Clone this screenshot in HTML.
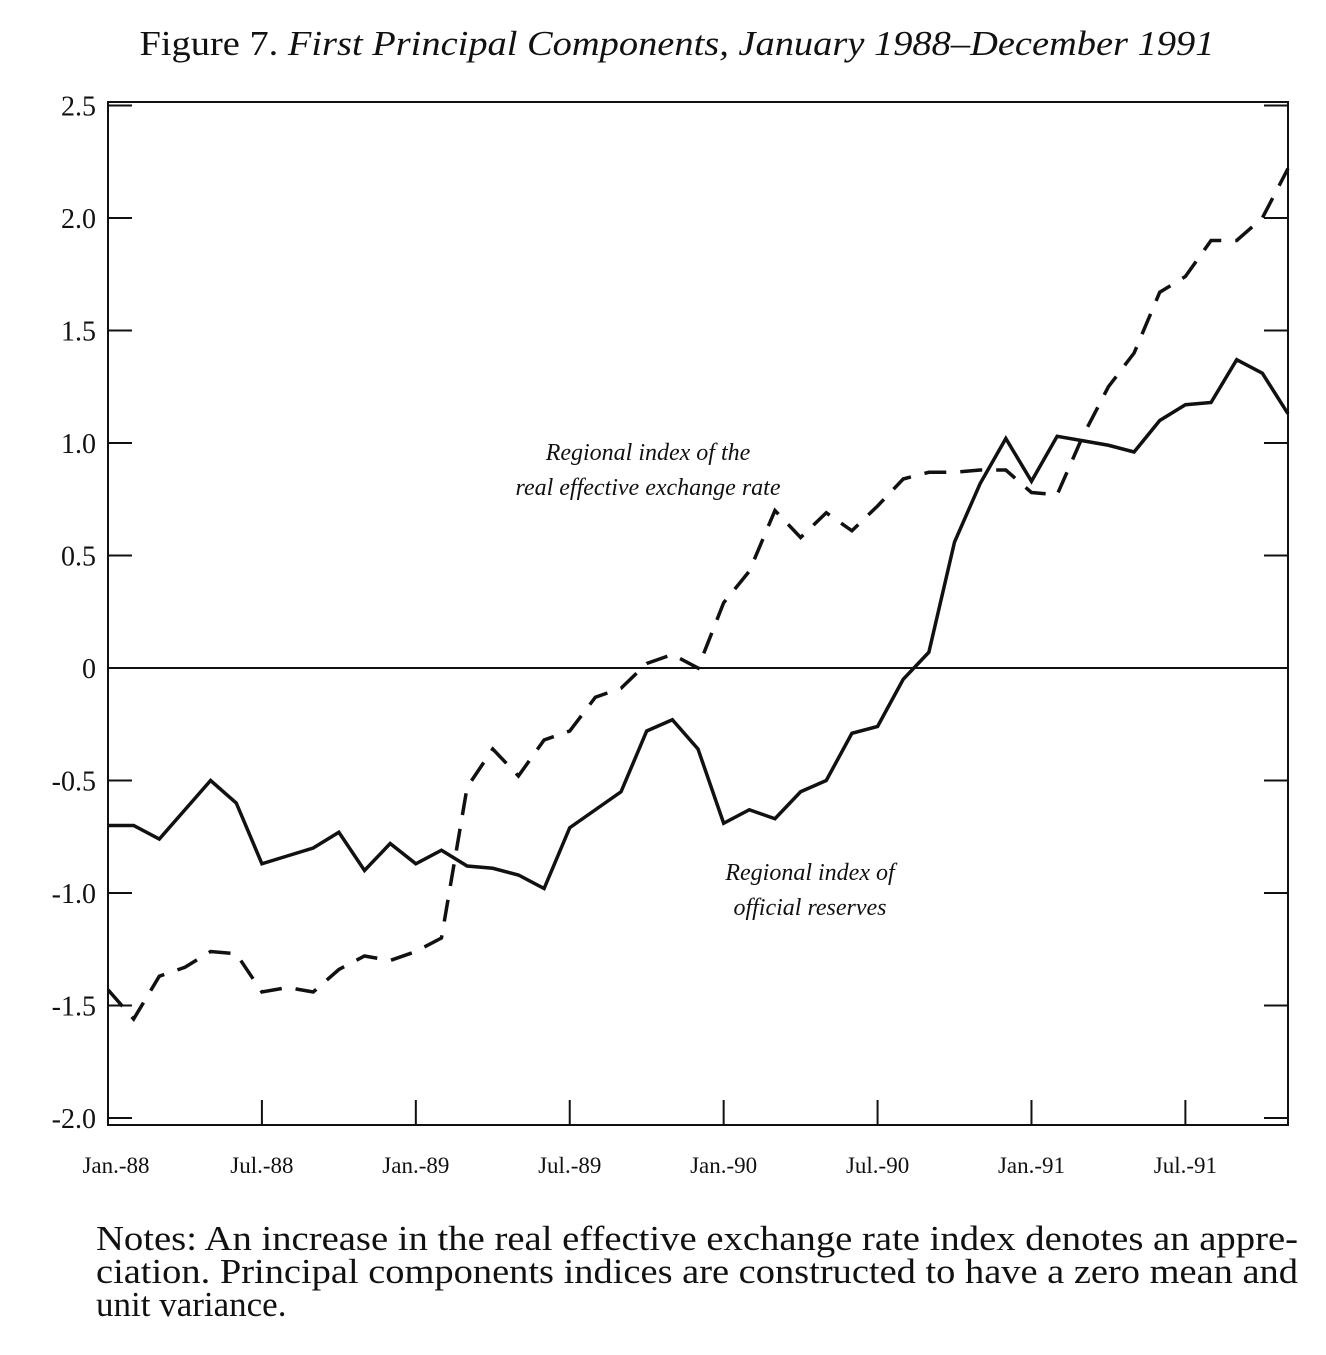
<!DOCTYPE html>
<html><head><meta charset="utf-8"><style>
body{margin:0;background:#fff;}
svg text{font-family:"Liberation Serif",serif;fill:#111;}
</style></head><body>
<svg width="1326" height="1350" viewBox="0 0 1326 1350">
<text x="677" y="55" font-size="35" text-anchor="middle" textLength="1075" lengthAdjust="spacingAndGlyphs">Figure 7. <tspan font-style="italic">First Principal Components, January 1988–December 1991</tspan></text>
<rect x="108" y="102" width="1180" height="1023" fill="none" stroke="#111" stroke-width="2"/>
<g id="axes"></g>
<g id="series"></g>
<text x="648" y="460" font-size="24" font-style="italic" text-anchor="middle">Regional index of the</text>
<text x="648" y="495" font-size="24" font-style="italic" text-anchor="middle">real effective exchange rate</text>
<text x="810" y="880" font-size="24" font-style="italic" text-anchor="middle">Regional index of</text>
<text x="810" y="915" font-size="24" font-style="italic" text-anchor="middle">official reserves</text>
<text font-size="35">
<tspan x="96" y="1250" textLength="1202" lengthAdjust="spacingAndGlyphs">Notes: An increase in the real effective exchange rate index denotes an appre-</tspan>
<tspan x="96" y="1283" textLength="1202" lengthAdjust="spacingAndGlyphs">ciation. Principal components indices are constructed to have a zero mean and</tspan>
<tspan x="96" y="1316">unit variance.</tspan>
</text>
</svg>
<script>
const yTicks=[2.5,2.0,1.5,1.0,0.5,0,-0.5,-1.0,-1.5,-2.0];
const yTickLabels=["2.5","2.0","1.5","1.0","0.5","0","-0.5","-1.0","-1.5","-2.0"];
const xTickMonths=[0,6,12,18,24,30,36,42];
const xTickLabels=["Jan.-88","Jul.-88","Jan.-89","Jul.-89","Jan.-90","Jul.-90","Jan.-91","Jul.-91"];
const reserves=[-0.70,-0.70,-0.76,-0.63,-0.50,-0.60,-0.87,-0.835,-0.80,-0.73,-0.90,-0.78,-0.87,-0.81,-0.88,-0.89,-0.92,-0.98,-0.71,-0.63,-0.55,-0.28,-0.23,-0.36,-0.69,-0.63,-0.67,-0.55,-0.50,-0.29,-0.26,-0.05,0.07,0.56,0.82,1.02,0.83,1.03,1.01,0.99,0.96,1.10,1.17,1.18,1.37,1.31,1.13];
const exchange=[-1.43,-1.56,-1.37,-1.33,-1.26,-1.27,-1.44,-1.42,-1.44,-1.34,-1.28,-1.30,-1.26,-1.20,-0.53,-0.36,-0.48,-0.32,-0.28,-0.13,-0.09,0.02,0.06,0.00,0.29,0.43,0.70,0.58,0.69,0.61,0.72,0.84,0.87,0.87,0.88,0.88,0.78,0.77,1.03,1.25,1.40,1.67,1.74,1.90,1.90,2.00,2.22];
const NS="http://www.w3.org/2000/svg";
const L=108,R=1288,T=102,B=1125;
function xs(i){return L+i*(R-L)/46;}
function ys(v){return 668-v*225;}
const axes=document.getElementById('axes'),ser=document.getElementById('series');
function mk(tag,attrs,parent){const e=document.createElementNS(NS,tag);for(const k in attrs)e.setAttribute(k,attrs[k]);parent.appendChild(e);return e;}
yTicks.forEach((v,k)=>{
  const y=ys(v);
  const t1=mk('line',{x1:L,x2:L+24,y1:y,y2:y,stroke:'#111','stroke-width':2},axes);
  
  
  const t2=mk('line',{x1:R-24,x2:R,y1:y,y2:y,stroke:'#111','stroke-width':2},axes);
  
  
  const tx=mk('text',{x:96,y:y+10,'font-size':28,'text-anchor':'end'},axes);
  tx.textContent=yTickLabels[k];
  
  
});
const z=mk('line',{x1:L,x2:R,y1:ys(0),y2:ys(0),stroke:'#111','stroke-width':2},axes);


xTickMonths.forEach((m,k)=>{
  const x=xs(m);
  const t=mk('line',{x1:x,x2:x,y1:B-25,y2:B,stroke:'#111','stroke-width':2},axes);
  
  
  const tx=mk('text',{x:k===0?116:x,y:1173,'font-size':23,'text-anchor':'middle'},axes);
  tx.textContent=xTickLabels[k];
  
  
});
function line(arr,dash,name){
  const p=mk('polyline',{points:arr.map((v,i)=>xs(i)+','+ys(v)).join(' '),fill:'none',stroke:'#111','stroke-width':3.5,'stroke-linejoin':'miter'},ser);
  if(dash)p.setAttribute('stroke-dasharray',dash);
  
  
}
line(reserves,null,'official-reserves-line');
line(exchange,'22 14','exchange-rate-line');
</script>
</body></html>
